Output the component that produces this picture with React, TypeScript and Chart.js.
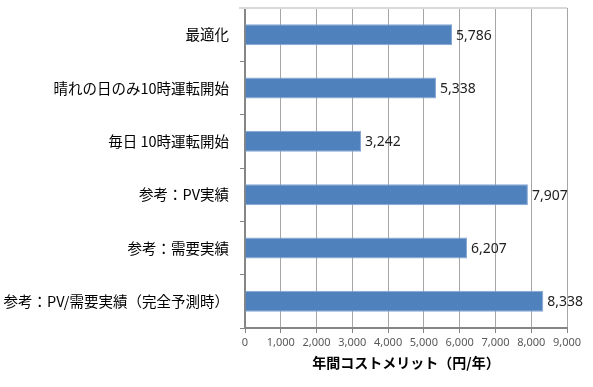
import React, { useEffect, useRef } from "react";
import { Chart, registerables } from "chart.js";

Chart.register(...registerables);

const categories = [
  "最適化",
  "晴れの日のみ10時運転開始",
  "毎日 10時運転開始",
  "参考：PV実績",
  "参考：需要実績",
  "参考：PV/需要実績（完全予測時）",
];
const values = [5786, 5338, 3242, 7907, 6207, 8338];
const xMin = 0;
const xMax = 9000;
const xStep = 1000;
const axisTitle = "年間コストメリット（円/年）";

const FONT = "'Noto Sans CJK JP', 'Noto Sans', sans-serif";

const labelPlugin = {
  id: "barLabels",
  afterDatasetsDraw(chart: any) {
    const ctx = chart.ctx;
    const meta = chart.getDatasetMeta(0);
    ctx.save();
    ctx.font = `14px 'Noto Sans', sans-serif`;
    ctx.fillStyle = "#222";
    ctx.textAlign = "left";
    ctx.textBaseline = "middle";
    meta.data.forEach((bar: any, i: number) => {
      ctx.fillText(values[i].toLocaleString("en-US"), bar.x + 4, bar.y + 1);
    });
    ctx.restore();
  },
};

const frameTopPlugin = {
  id: "frameTop",
  beforeDatasetsDraw(chart: any) {
    const { ctx, chartArea } = chart;
    ctx.save();
    ctx.strokeStyle = "#d9d9d9";
    ctx.lineWidth = 2;
    ctx.beginPath();
    ctx.moveTo(chartArea.left - 6, chartArea.top);
    ctx.lineTo(chartArea.right, chartArea.top);
    ctx.stroke();
    ctx.restore();
  },
};

export default function App() {
  const ref = useRef<HTMLCanvasElement>(null);
  useEffect(() => {
    if (!ref.current) return;
    const chart = new Chart(ref.current, {
      type: "bar",
      data: {
        labels: categories,
        datasets: [
          {
            data: values,
            backgroundColor: "#4f81bd",
            borderColor: "#86a6d2",
            borderWidth: 1,
            categoryPercentage: 1,
            barPercentage: 0.394,
          },
        ],
      },
      options: {
        indexAxis: "y",
        animation: false,
        responsive: false,
        maintainAspectRatio: false,
        layout: { padding: { top: 8, right: 26, left: 0, bottom: 0 } },
        plugins: {
          legend: { display: false },
          tooltip: { enabled: false },
        },
        scales: {
          x: {
            min: xMin,
            max: xMax,
            ticks: {
              stepSize: xStep,
              color: "#595959",
              font: { family: "'Noto Sans', sans-serif", size: 11 },
              padding: 3,
              callback: (v: any) => Number(v).toLocaleString("en-US"),
            },
            grid: {
              color: "#a6a6a6",
              tickColor: "#868686",
              tickLength: 5,
              drawOnChartArea: true,
            },
            border: { display: true, color: "#868686", width: 2 },
            title: {
              display: true,
              text: axisTitle,
              color: "#000",
              font: { family: FONT, size: 14, weight: "bold" },
              padding: { top: 4, bottom: 16 },
            },
            afterFit: (s: any) => {
              s.height = 59;
              s.paddingLeft = 0;
              s.paddingRight = 0;
            },
          },
          y: {
            ticks: {
              color: "#000",
              font: { family: FONT, size: 14.5 },
              padding: 11,
            },
            grid: {
              drawOnChartArea: false,
              tickColor: "#868686",
              tickLength: 5,
            },
            border: { display: true, color: "#868686", width: 2 },
            afterFit: (s: any) => {
              s.width = 245;
              s.paddingTop = 0;
              s.paddingBottom = 0;
            },
          },
        },
      },
      plugins: [frameTopPlugin, labelPlugin],
    });
    return () => chart.destroy();
  }, []);
  return (
    <div style={{ position: "absolute", left: 0, top: 0, width: 593, height: 387, background: "#fff" }}>
      <canvas ref={ref} width={593} height={387} style={{ width: 593, height: 387 }} />
    </div>
  );
}
